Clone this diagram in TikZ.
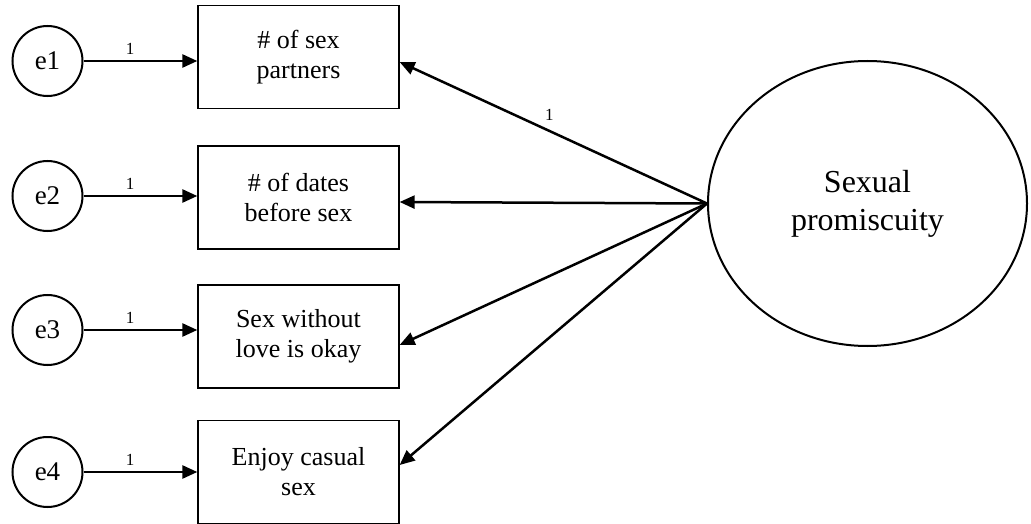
\documentclass[tikz,border=0pt]{standalone}
\usepackage{fontspec}
\setmainfont{Liberation Serif}
\usetikzlibrary{arrows.meta,shapes.geometric}

\tikzset{
  errnode/.style={circle, draw, line width=2pt, minimum size=70pt, inner sep=0pt,
    font=\fontsize{27}{30}\selectfont},
  itembox/.style={rectangle, draw, line width=1.3pt, minimum width=201pt, minimum height=103pt,
    align=center, inner sep=0pt, font=\fontsize{26}{30}\selectfont},
  latent/.style={ellipse, draw, line width=2pt, minimum width=319pt, minimum height=285pt,
    align=center, inner sep=0pt, font=\fontsize{32}{38}\selectfont},
  path/.style={line width=2.5pt, -{Triangle[length=15pt,width=13pt]}},
  weight/.style={font=\fontsize{17}{20}\selectfont, inner sep=0pt}
}

\begin{document}
\begin{tikzpicture}[x=1pt,y=-1pt]
\useasboundingbox (0,0) rectangle (1031,524);

% observed indicators
\node[itembox] (b1) at (298.5,57)    {\# of sex\\partners};
\node[itembox] (b2) at (298.5,197.5) {\# of dates\\before sex};
\node[itembox] (b3) at (298.5,336.5) {Sex without\\love is okay};
\node[itembox] (b4) at (298.5,472)   {Enjoy casual\\sex};

% error terms
\node[errnode] (e1) at (47.5,61)  {e1};
\node[errnode] (e2) at (47.5,196) {e2};
\node[errnode] (e3) at (47.5,330) {e3};
\node[errnode] (e4) at (47.5,472) {e4};

% latent factor
\node[latent] (sp) at (867.5,203.5) {Sexual\\promiscuity};

% error paths
\foreach \i in {1,...,4}{
  \draw[path] (e\i) -- (e\i -| b\i.west) node[weight, pos=0.41, above=5pt] {1};
}

% factor loadings
\draw[path] (sp.west) -- ([yshift=-5pt]b1.east) node[weight, pos=0.513, above=9pt] {1};
\draw[path] (sp.west) -- ([yshift=-4.5pt]b2.east);
\draw[path] (sp.west) -- ([yshift=-8.5pt]b3.east);
\draw[path] (sp.west) -- ([yshift=7pt]b4.east);
\end{tikzpicture}
\end{document}
